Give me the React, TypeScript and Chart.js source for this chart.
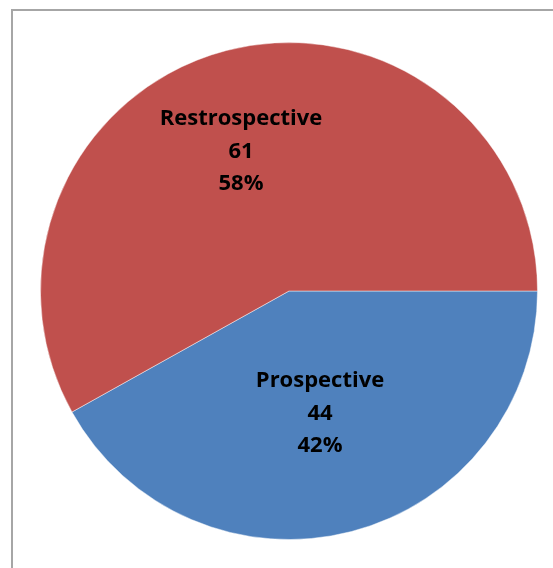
import React, { useEffect, useRef } from "react";
import { Chart, registerables } from "chart.js";

Chart.register(...registerables);

const categories = ["Prospective", "Restrospective"];
const values = [44, 61];
const percentLabels = ["42%", "58%"];
const colors = ["#4F81BD", "#C0504D"];

const labelPlugin = {
  id: "excelPieLabels",
  afterDatasetsDraw(chart: any) {
    const ctx = chart.ctx;
    const meta = chart.getDatasetMeta(0);
    const placement = [
      { frac: 0.506, dAng: 0.3 },
      { frac: 0.597, dAng: -4.3 },
    ];
    ctx.save();
    ctx.fillStyle = "#000000";
    ctx.textAlign = "center";
    ctx.textBaseline = "alphabetic";
    ctx.font = "bold 22px 'Open Sans'";
    meta.data.forEach((arc: any, i: number) => {
      const { x, y, startAngle, endAngle, outerRadius } = arc.getProps(
        ["x", "y", "startAngle", "endAngle", "outerRadius"],
        true
      );
      const mid = (startAngle + endAngle) / 2 + (placement[i].dAng * Math.PI) / 180;
      const r = outerRadius * placement[i].frac;
      const cx = x + Math.cos(mid) * r;
      const cy = y + Math.sin(mid) * r;
      const lines = [categories[i], String(values[i]), percentLabels[i]];
      lines.forEach((t, k) => {
        ctx.fillText(t, cx, cy + 7 + (k - 1) * 32.5);
      });
    });
    ctx.restore();
  },
};

export default function App() {
  const ref = useRef<HTMLCanvasElement>(null);
  useEffect(() => {
    if (!ref.current) return;
    const chart = new Chart(ref.current, {
      type: "pie",
      data: {
        labels: categories,
        datasets: [
          {
            data: values,
            backgroundColor: colors,
            borderColor: "rgba(255,255,255,0.45)",
            borderWidth: 1,
          },
        ],
      },
      options: {
        responsive: false,
        animation: false,
        rotation: 90,
        layout: { padding: 0 },
        plugins: {
          legend: { display: false },
          tooltip: { enabled: false },
        },
      },
      plugins: [labelPlugin],
    });
    return () => chart.destroy();
  }, []);
  return (
    <div
      style={{
        position: "fixed",
        left: 0,
        top: 0,
        width: 553,
        height: 568,
        background: "#ffffff",
        overflow: "hidden",
      }}
    >
      <div
        style={{
          position: "absolute",
          left: 11,
          top: 9,
          width: 700,
          height: 700,
          border: "2px solid #a6a6a6",
          boxSizing: "border-box",
        }}
      />
      <canvas
        ref={ref}
        width={498}
        height={498}
        style={{ position: "absolute", left: 39.5, top: 41.5, width: 498, height: 498 }}
      />
    </div>
  );
}
